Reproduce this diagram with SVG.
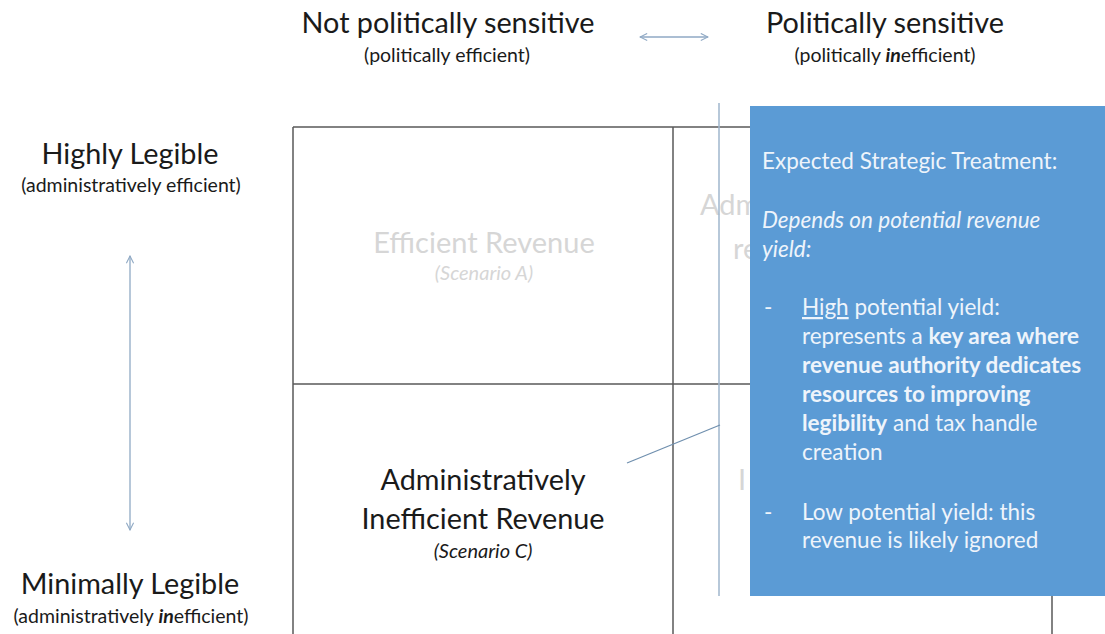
<svg xmlns="http://www.w3.org/2000/svg" width="1105" height="634" viewBox="0 0 1105 634">
<style>
  text { font-family: Lato, "Open Sans", "Liberation Sans", sans-serif; }
  .big { font-size: 28.8px; fill: #1a1a1a; }
  .sub { font-size: 19.5px; fill: #1a1a1a; }
  .scen { font-size: 20px; fill: #1a1a1a; font-style: italic; }
  .faint { font-size: 29px; fill: #d6d6d6; }
  .faintsub { font-size: 20px; fill: #d6d6d6; font-style: italic; }
  .grid { stroke: #595959; stroke-width: 1.5; fill: none; }
  .axis { stroke: #8fa9c4; stroke-width: 1.3; fill: none; }
  .box { fill: #5b9bd5; }
  .bt { font-size: 22.5px; fill: #eef4fb; }
  .b { font-weight: bold; }
  .i { font-style: italic; }
</style>
<defs>
  <marker id="ah" viewBox="0 0 10 10" refX="9" refY="5" markerWidth="9" markerHeight="9" orient="auto-start-reverse" markerUnits="userSpaceOnUse">
    <path d="M1,1 L9,5 L1,9" fill="none" stroke="#8fa9c4" stroke-width="1.2"/>
  </marker>
</defs>
<rect width="1105" height="634" fill="#ffffff"/>

<g id="grid">
  <line class="grid" x1="293" y1="127" x2="750" y2="127"/>
  <line class="grid" x1="293" y1="384" x2="750" y2="384"/>
  <line class="grid" x1="293" y1="127" x2="293" y2="634"/>
  <line class="grid" x1="673" y1="127" x2="673" y2="634"/>
  <line class="grid" x1="1052" y1="596" x2="1052" y2="634"/>
</g>

<g id="cell-a">
  <text class="faint" x="484" y="253" text-anchor="middle">Efficient Revenue</text>
  <text class="faintsub" x="484" y="280" text-anchor="middle">(Scenario A)</text>
</g>
<g id="cell-b">
  <text class="faint" x="700" y="215">Adm</text>
  <text class="faint" x="733" y="259">re</text>
</g>
<g id="cell-d">
  <text class="faint" x="738" y="490">I</text>
</g>
<g id="cell-c">
  <text class="big" x="483" y="490" text-anchor="middle">Administratively</text>
  <text class="big" x="483" y="529" text-anchor="middle">Inefficient Revenue</text>
  <text class="scen" x="483" y="558" text-anchor="middle">(Scenario C)</text>
</g>

<g id="top-left-label">
  <text class="big" x="448" y="33" text-anchor="middle">Not politically sensitive</text>
  <text class="sub" x="447" y="62" text-anchor="middle">(politically efficient)</text>
</g>
<g id="top-right-label">
  <text class="big" x="885" y="33" text-anchor="middle">Politically sensitive</text>
  <text class="sub" x="885" y="62" text-anchor="middle">(politically <tspan class="b i">in</tspan>efficient)</text>
</g>
<g id="left-top-label">
  <text class="big" x="130" y="164" text-anchor="middle">Highly Legible</text>
  <text class="sub" x="131" y="192" text-anchor="middle">(administratively efficient)</text>
</g>
<g id="left-bottom-label">
  <text class="big" x="130" y="594" text-anchor="middle">Minimally Legible</text>
  <text class="sub" x="131" y="623" text-anchor="middle">(administratively <tspan class="b i">in</tspan>efficient)</text>
</g>

<g id="connectors">
  <line class="axis" x1="640" y1="37" x2="708" y2="37" marker-start="url(#ah)" marker-end="url(#ah)"/>
  <line class="axis" x1="130" y1="256" x2="130" y2="530" marker-start="url(#ah)" marker-end="url(#ah)"/>
  <line x1="719" y1="103" x2="719" y2="596" stroke="#9fb6cc" stroke-width="1.5"/>
  <line x1="627" y1="463" x2="720" y2="425" stroke="#6f8fae" stroke-width="1.2"/>
</g>

<g id="callout">
  <rect class="box" x="750" y="106" width="360" height="490"/>
  <text class="bt" x="762" y="169">Expected Strategic Treatment:</text>
  <text class="bt i" x="762" y="228">Depends on potential revenue</text>
  <text class="bt i" x="762" y="257">yield:</text>
  <text class="bt" x="764" y="315">-</text>
  <text class="bt" x="802" y="315"><tspan text-decoration="underline">High</tspan> potential yield:</text>
  <text class="bt" x="802" y="344">represents a <tspan class="b">key area where</tspan></text>
  <text class="bt b" x="802" y="373">revenue authority dedicates</text>
  <text class="bt b" x="802" y="402">resources to improving</text>
  <text class="bt" x="802" y="431"><tspan class="b">legibility</tspan> and tax handle</text>
  <text class="bt" x="802" y="460">creation</text>
  <text class="bt" x="764" y="520">-</text>
  <text class="bt" x="802" y="520">Low potential yield: this</text>
  <text class="bt" x="802" y="548">revenue is likely ignored</text>
</g>
</svg>
